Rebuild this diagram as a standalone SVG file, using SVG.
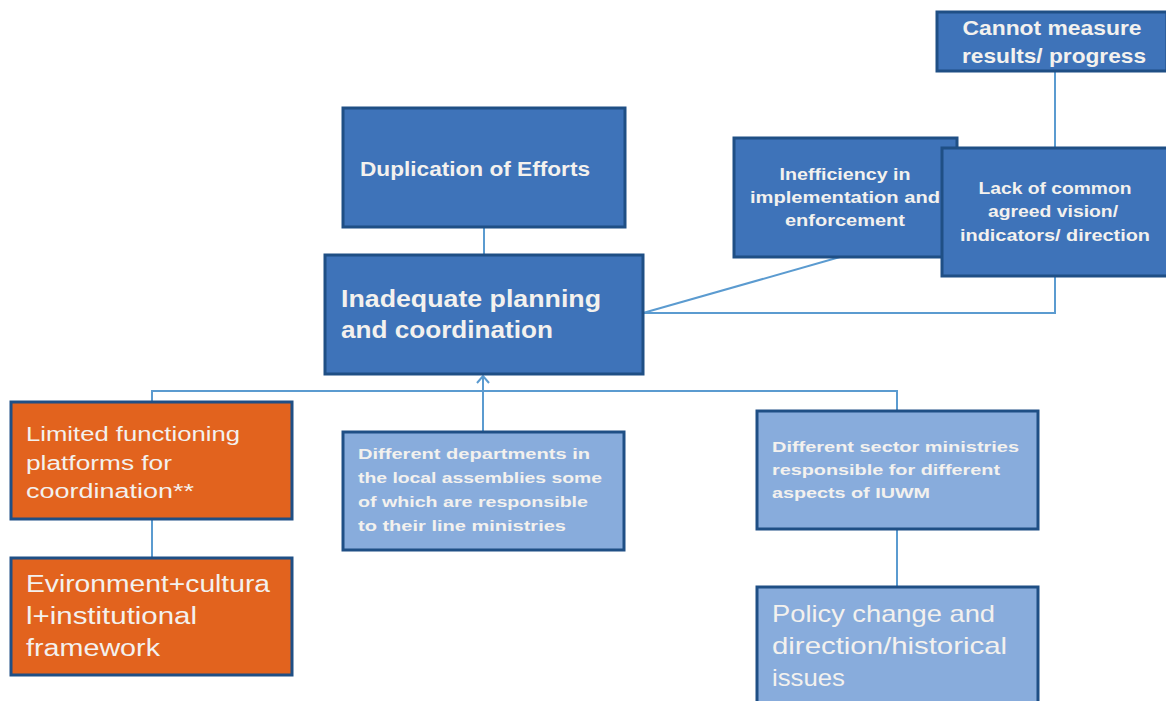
<svg xmlns="http://www.w3.org/2000/svg" width="1166" height="701" viewBox="0 0 1166 701">
<defs>
<style>
.dk{fill:#3e73b9;stroke:#1f4f85;stroke-width:3}
.lt{fill:#88acdc;stroke:#1f4f85;stroke-width:3}
.or{fill:#e2631e;stroke:#1f4f85;stroke-width:3}
.c{fill:none;stroke:#5b9bd0;stroke-width:2}
text{font-family:"Liberation Sans",Arial,sans-serif;fill:#f3f1ee}
.b{font-weight:bold}
</style>
</defs>
<rect width="1166" height="701" fill="#ffffff"/>
<g id="connectors">
<path class="c" d="M1055,71 V313 H643"/>
<path class="c" d="M840,257 L643,313"/>
<path class="c" d="M484,227 V255"/>
<path class="c" d="M483,432 V377"/>
<path class="c" d="M477,383 L483,376 L489,383"/>
<path class="c" d="M152,402 V391 H897 V411"/>
<path class="c" d="M152,519 V558"/>
<path class="c" d="M897,529 V587"/>
</g>
<g id="n_cannot">
<rect class="dk" x="937" y="12" width="230" height="59"/>
<text class="b" x="1052" y="35" font-size="20" text-anchor="middle" textLength="179" lengthAdjust="spacingAndGlyphs">Cannot measure</text>
<text class="b" x="1054" y="63" font-size="20" text-anchor="middle" textLength="184" lengthAdjust="spacingAndGlyphs">results/ progress</text>
</g>
<g id="n_ineff">
<rect class="dk" x="734" y="138" width="223" height="119"/>
<text class="b" x="845" y="180" font-size="16" text-anchor="middle" textLength="131" lengthAdjust="spacingAndGlyphs">Inefficiency in</text>
<text class="b" x="845" y="203" font-size="16" text-anchor="middle" textLength="190" lengthAdjust="spacingAndGlyphs">implementation and</text>
<text class="b" x="845" y="226" font-size="16" text-anchor="middle" textLength="120" lengthAdjust="spacingAndGlyphs">enforcement</text>
</g>
<g id="n_lack">
<rect class="dk" x="942" y="148" width="226" height="128"/>
<text class="b" x="1055" y="194" font-size="16" text-anchor="middle" textLength="153" lengthAdjust="spacingAndGlyphs">Lack of common</text>
<text class="b" x="1053" y="217" font-size="16" text-anchor="middle" textLength="130" lengthAdjust="spacingAndGlyphs">agreed vision/</text>
<text class="b" x="1055" y="241" font-size="16" text-anchor="middle" textLength="190" lengthAdjust="spacingAndGlyphs">indicators/ direction</text>
</g>
<g id="n_dup">
<rect class="dk" x="343" y="108" width="282" height="119"/>
<text class="b" x="360" y="176" font-size="20" textLength="230" lengthAdjust="spacingAndGlyphs">Duplication of Efforts</text>
</g>
<g id="n_inadequate">
<rect class="dk" x="325" y="255" width="318" height="119"/>
<text class="b" x="341" y="307" font-size="23" textLength="260" lengthAdjust="spacingAndGlyphs">Inadequate planning</text>
<text class="b" x="341" y="338" font-size="23" textLength="212" lengthAdjust="spacingAndGlyphs">and coordination</text>
</g>
<g id="n_limited">
<rect class="or" x="11" y="402" width="281" height="117"/>
<text x="26" y="441" font-size="20" textLength="214" lengthAdjust="spacingAndGlyphs">Limited functioning</text>
<text x="26" y="470" font-size="20" textLength="146" lengthAdjust="spacingAndGlyphs">platforms for</text>
<text x="26" y="498" font-size="20" textLength="168" lengthAdjust="spacingAndGlyphs">coordination**</text>
</g>
<g id="n_evironment">
<rect class="or" x="11" y="558" width="281" height="117"/>
<text x="26" y="592" font-size="23" textLength="244" lengthAdjust="spacingAndGlyphs">Evironment+cultura</text>
<text x="26" y="624" font-size="23" textLength="171" lengthAdjust="spacingAndGlyphs">l+institutional</text>
<text x="26" y="656" font-size="23" textLength="134" lengthAdjust="spacingAndGlyphs">framework</text>
</g>
<g id="n_departments">
<rect class="lt" x="343" y="432" width="281" height="118"/>
<text class="b" x="358" y="459" font-size="15" textLength="232" lengthAdjust="spacingAndGlyphs">Different departments in</text>
<text class="b" x="358" y="483" font-size="15" textLength="244" lengthAdjust="spacingAndGlyphs">the local assemblies some</text>
<text class="b" x="358" y="507" font-size="15" textLength="230" lengthAdjust="spacingAndGlyphs">of which are responsible</text>
<text class="b" x="358" y="531" font-size="15" textLength="208" lengthAdjust="spacingAndGlyphs">to their line ministries</text>
</g>
<g id="n_sector">
<rect class="lt" x="757" y="411" width="281" height="118"/>
<text class="b" x="772" y="452" font-size="15" textLength="247" lengthAdjust="spacingAndGlyphs">Different sector ministries</text>
<text class="b" x="772" y="475" font-size="15" textLength="228" lengthAdjust="spacingAndGlyphs">responsible for different</text>
<text class="b" x="772" y="498" font-size="15" textLength="158" lengthAdjust="spacingAndGlyphs">aspects of IUWM</text>
</g>
<g id="n_policy">
<rect class="lt" x="757" y="587" width="281" height="120"/>
<text x="772" y="622" font-size="24" textLength="223" lengthAdjust="spacingAndGlyphs">Policy change and</text>
<text x="772" y="654" font-size="24" textLength="235" lengthAdjust="spacingAndGlyphs">direction/historical</text>
<text x="772" y="686" font-size="24" textLength="73" lengthAdjust="spacingAndGlyphs">issues</text>
</g>
</svg>
